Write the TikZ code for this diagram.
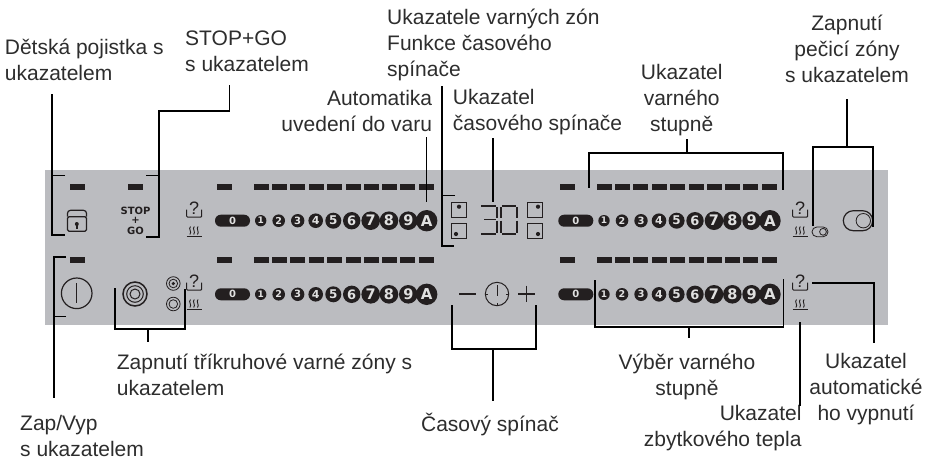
\documentclass[tikz,border=0pt]{standalone}
\usepackage{fontspec}
\setmainfont{Liberation Sans}
\newfontfamily\iconfont{DejaVu Sans}
\definecolor{panel}{RGB}{187,188,192}
\definecolor{ink}{RGB}{35,31,32}
\definecolor{txt}{RGB}{45,45,45}
\tikzset{
  lead/.style={line width=1.6pt,black,line cap=butt,line join=miter},
  lbl/.style={font=\fontsize{21}{26}\selectfont,inner sep=0pt,text=txt},
  ico/.style={line width=1pt,draw=ink},
  thin ico/.style={line width=0.8pt,draw=ink},
  seg/.style={line width=1.7pt,draw=ink},
  hob/.style={circle,fill=ink,inner sep=0pt,text=white!88!black},
  dashbar/.style={fill=ink,draw=none},
  capt/.style={inner sep=0pt,text=ink,font=\iconfont\bfseries\fontsize{10}{10}\selectfont}
}
% dashes of one row: #1 x shift, #2 top y
\newcommand{\dashrow}[2]{%
  \foreach \xx in {217,254,272,290,309,327,346,364,382,400,419}
    \fill[dashbar] ({\xx+#1},#2) rectangle ++(15,6);}
% power scale of one row: #1 name prefix, #2 x shift, #3 centre y
\newcommand{\powerrow}[3]{%
  \node[rectangle,rounded corners=5.8pt,fill=ink,minimum width=35pt,minimum height=12pt,inner sep=0pt,text=white!88!black,font=\iconfont\bfseries\fontsize{10}{10}\selectfont] (#1z) at ({232.5+#2},#3) {0};
  \foreach \cx/\rr/\fs/\lab in {260.7/5.7/9/1,278.7/6.3/9.5/2,297.7/6.7/10/3,315.7/7.3/11/4,333.3/8/12/5,351.7/8.7/13/6,370.7/9.3/14.5/7,389/9.3/14.5/8,408.3/9.3/14.5/9,426.7/10.7/15/A}
    \node[hob,minimum size={2*\rr pt},font=\iconfont\bfseries\fontsize{\fs}{\fs}\selectfont] (#1\lab) at ({\cx+#2},#3) {\lab};}
% question and tray icon: #1 name, #2 left x, #3 top y
\newcommand{\queryicon}[3]{%
  \node[inner sep=0pt,text=ink,font=\fontsize{18}{18}\selectfont] (#1) at ({#2+7.4},{#3+5.6}) {?};
  \draw[ico,rounded corners=0.8pt] (#2,{#3+6.5}) -- (#2,{#3+14}) -- ({#2+15},{#3+14}) -- ({#2+15},{#3+6.5});}
% residual heat icon: #1 left x, #2 top y
\newcommand{\heaticon}[2]{%
  \foreach \dx in {3.8,7.6,11.4}
    \draw[line width=0.9pt,draw=ink] ({#1+\dx},#2) .. controls ({#1+\dx-2.6},{#2+2}) and ({#1+\dx+1.8},{#2+5.4}) .. ({#1+\dx-0.6},{#2+8});
  \draw[line width=1.1pt,draw=ink] (#1,{#2+9.6}) -- ({#1+15},{#2+9.6});}
\begin{document}
\begin{tikzpicture}[x=1pt,y=-1pt]
\useasboundingbox (0,0) rectangle (936,459);
\fill[panel] (45,170) rectangle (887.7,325);

% dash rows
\dashrow{0}{184}\dashrow{343}{184}\dashrow{0}{257}\dashrow{343}{257}
\fill[dashbar] (70,184) rectangle ++(15,6);
\fill[dashbar] (128,184) rectangle ++(15,6);
\fill[dashbar] (70,257) rectangle ++(15,6);

% power scales
\powerrow{pa}{0}{220.7}
\powerrow{pb}{343.3}{220.7}
\powerrow{pc}{0}{294.3}
\powerrow{pd}{343.3}{294.3}

% status icons
\queryicon{qa}{186.7}{203}
\queryicon{qb}{792.7}{203}
\queryicon{qc}{186.7}{276}
\queryicon{qd}{792.7}{276}
\heaticon{186.7}{226.5}
\heaticon{792.7}{226.5}
\heaticon{186.7}{299.5}
\heaticon{792.7}{299.5}

% child lock
\draw[ico,line width=1.2pt,rounded corners=1.5pt] (67.5,216.7) -- (67.5,231.3) -- (86.5,231.3) -- (86.5,216.7) -- cycle;
\draw[ico,line width=1.2pt,rounded corners=3pt] (67.5,216.7) -- (67.5,210.3) -- (86.5,210.3) -- (86.5,216.7);
\fill[ink] (76.8,224) circle (2);
\fill[ink] (76,224.5) rectangle (77.6,228.5);

% stop+go
\node[capt] (stop) at (135.5,210.8) {STOP};
\node[capt] (plus) at (135.5,220.8) {+};
\node[capt] (go) at (135.5,231) {GO};

% power switch
\node[circle,draw=ink,line width=1.2pt,minimum size=30.6pt,inner sep=0pt] (power) at (76.7,293.3) {};
\draw[ico,line width=1.3pt] (76.7,283) -- (76.7,303);

% triple ring
\draw[ico,line width=1.5pt] (135,294) circle (12);
\draw[ico,line width=1pt] (135,294) circle (8.3);
\draw[ico,line width=1pt] (135,294) circle (5);
\draw[thin ico] (173.3,283.5) circle (6.8);
\draw[thin ico] (173.3,283.5) circle (4.3);
\fill[ink] (173.3,283.5) circle (1.8);
\draw[thin ico] (173.3,304) circle (6.8);
\draw[thin ico] (173.3,304) circle (4.3);

% timer squares
\foreach \sx/\sy/\dx/\dy in {451/202.3/459/206.7,451/223.3/456/234,527.3/202.3/538/206.7,527.3/223.3/538/234}{
  \draw[ico] (\sx,\sy) rectangle ++(15.2,15);
  \fill[ink] (\dx,\dy) circle (2.1);}

% timer digits
\draw[seg] (481,205.7) -- (496,205.7);
\draw[seg] (497,207) -- (497,218.3);
\draw[seg] (484,219.4) -- (496,219.4);
\draw[seg] (497,220.5) -- (497,232.8);
\draw[seg] (481,234) -- (496,234);
\draw[seg] (502,205.7) -- (516,205.7);
\draw[seg] (501,207) -- (501,218.3);
\draw[seg] (517,207) -- (517,218.3);
\draw[seg] (501,220.5) -- (501,232.8);
\draw[seg] (517,220.5) -- (517,232.8);
\draw[seg] (502,234) -- (516,234);

% timer keys
\draw[ico,line width=1.2pt] (459,294) -- (476,294);
\node[circle,draw=ink,line width=1pt,minimum size=23.4pt,inner sep=0pt] (clock) at (497,294) {};
\draw[ico] (497,285) -- (497,296);
\draw[ico] (485.5,294) -- (488,294) (506,294) -- (508.5,294) (497,303) -- (497,305.5);
\draw[ico,line width=1.1pt] (518,294) -- (534.6,294) (526.3,285.7) -- (526.3,302.3);

% hob toggles
\draw[thin ico,rounded corners=4.8pt] (812,227) rectangle (828,236.7);
\draw[thin ico] (823,231.8) circle (3.4);
\draw[ico,line width=1.2pt,rounded corners=10pt] (843.3,210.7) rectangle (872.7,230.7);
\draw[thin ico] (863.3,220.7) circle (7.2);

% labels
\node[lbl,anchor=base west,align=left] (ldet) at (4.7,80) {Dětská pojistka s\\ukazatelem};
\node[lbl,anchor=base west,align=left] (lstop) at (185,71.7) {STOP+GO\\s ukazatelem};
\node[lbl,anchor=base west,align=left] (lzon) at (387,76.7) {Ukazatele varných zón\\Funkce časového\\spínače};
\node[lbl,anchor=base east,align=right] (lauto) at (432.3,131.7) {Automatika\\uvedení do varu};
\node[lbl,anchor=base west,align=left] (lcas) at (452.7,130.7) {Ukazatel\\časového spínače};
\node[lbl,anchor=base,align=center] (lvar) at (681.7,131.7) {Ukazatel\\varného\\stupně};
\node[lbl,anchor=base,align=center] (lpec) at (847,82.3) {Zapnutí\\pečicí zóny\\s ukazatelem};
\node[lbl,anchor=base west,align=left] (ltri) at (116.7,395.7) {Zapnutí tříkruhové varné zóny s\\ukazatelem};
\node[lbl,anchor=base west,align=left] (lzap) at (20,456) {Zap/Vyp\\s ukazatelem};
\node[lbl,anchor=base] (ltim) at (490,431) {Časový spínač};
\node[lbl,anchor=base,align=center] (lvyb) at (687,395.7) {Výběr varného\\stupně};
\node[lbl,anchor=base east,align=right] (lzby) at (801.7,446.7) {Ukazatel\\zbytkového tepla};
\node[lbl,anchor=base,align=center] (laut) at (866,420) {Ukazatel\\automatické\\ho vypnutí};

% leader free ends
\coordinate (a1) at (65,175.5); \coordinate (a2) at (52,175.5); \coordinate (a3) at (52,235); \coordinate (a4) at (65,235); \coordinate (a5) at (52,94);
\coordinate (b1) at (146,175.5); \coordinate (b2) at (158.7,175.5); \coordinate (b3) at (158.7,237); \coordinate (b4) at (146,237); \coordinate (b5) at (158.7,111); \coordinate (b6) at (229.5,111); \coordinate (b7) at (229.5,85);
\coordinate (c1) at (426.5,137); \coordinate (c2) at (426.5,202);
\coordinate (d1) at (455,195.5); \coordinate (d2) at (441.7,195.5); \coordinate (d3) at (441.7,246); \coordinate (d4) at (454,246); \coordinate (d5) at (441.7,86);
\coordinate (e1) at (492.7,138); \coordinate (e2) at (492.7,201.5);
\coordinate (f1) at (589,187.5); \coordinate (f2) at (589,153); \coordinate (f3) at (782.7,153); \coordinate (f4) at (782.7,190); \coordinate (f5) at (686.7,139); \coordinate (f6) at (686.7,153);
\coordinate (g1) at (813,226); \coordinate (g2) at (813,146.7); \coordinate (g3) at (872.7,146.7); \coordinate (g4) at (872.7,227); \coordinate (g5) at (846.7,99); \coordinate (g6) at (846.7,146.7);
\coordinate (h1) at (66,256.7); \coordinate (h2) at (54,256.7); \coordinate (h3) at (54,398); \coordinate (h4) at (66,316.5); \coordinate (h5) at (54,316.5);
\coordinate (i1) at (114.7,288); \coordinate (i2) at (114.7,329); \coordinate (i3) at (185,329); \coordinate (i4) at (185,289); \coordinate (i5) at (147.7,329); \coordinate (i6) at (147.7,342);
\coordinate (j1) at (452,305); \coordinate (j2) at (452,348.7); \coordinate (j3) at (536,348.7); \coordinate (j4) at (536,305); \coordinate (j5) at (492.7,348.7); \coordinate (j6) at (492.7,401);
\coordinate (k1) at (595,280); \coordinate (k2) at (595,327); \coordinate (k3) at (783.5,327); \coordinate (k4) at (783.5,279); \coordinate (k5) at (688.7,327); \coordinate (k6) at (688.7,338);
\coordinate (l1) at (799.7,322); \coordinate (l2) at (799.7,406);
\coordinate (m1) at (812,282.7); \coordinate (m2) at (874,282.7); \coordinate (m3) at (874,343);

% leaders
\draw[lead] (a1) -- (a2) -- (a3) -- (a4);
\draw[lead] (a5) -- (a2);
\draw[lead] (b1) -- (b2) -- (b3) -- (b4);
\draw[lead] (b2) -- (b5) -- (b6) -- (b7);
\draw[lead] (c1) -- (c2);
\draw[lead] (d1) -- (d2) -- (d3) -- (d4);
\draw[lead] (d5) -- (d2);
\draw[lead] (e1) -- (e2);
\draw[lead] (f1) -- (f2) -- (f3) -- (f4);
\draw[lead] (f5) -- (f6);
\draw[lead] (g1) -- (g2) -- (g3) -- (g4);
\draw[lead] (g5) -- (g6);
\draw[lead] (h1) -- (h2) -- (h3);
\draw[lead] (h4) -- (h5);
\draw[lead] (i1) -- (i2) -- (i3) -- (i4);
\draw[lead] (i5) -- (i6);
\draw[lead] (j1) -- (j2) -- (j3) -- (j4);
\draw[lead] (j5) -- (j6);
\draw[lead] (k1) -- (k2) -- (k3) -- (k4);
\draw[lead] (k5) -- (k6);
\draw[lead] (l1) -- (l2);
\draw[lead] (m1) -- (m2) -- (m3);
\end{tikzpicture}
\end{document}
